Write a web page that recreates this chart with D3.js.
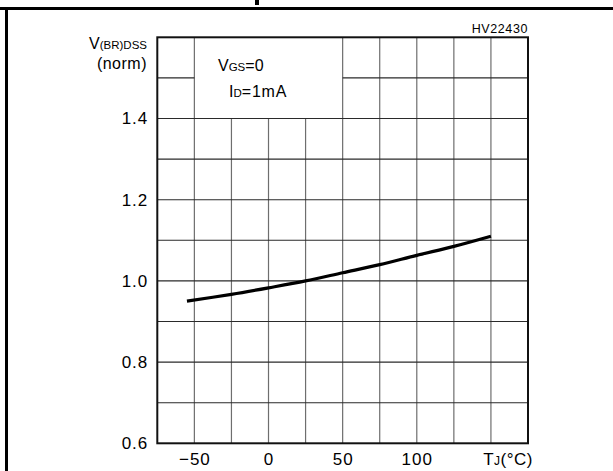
<!DOCTYPE html>
<html>
<head>
<meta charset="utf-8">
<script src="https://cdn.jsdelivr.net/npm/d3@7"></script>
<style>
  body { margin: 0; background: #fff; }
  svg { display: block; font-family: "Liberation Sans", Arial, sans-serif; }
</style>
</head>
<body>
<div id="chart"></div>
<script>
// curve: Tj (°C) vs normalised V(BR)DSS
const temps = [-55, -25, 0, 25, 50, 75, 100, 125, 150];
const bvdss = [0.950, 0.967, 0.983, 1.000, 1.020, 1.040, 1.063, 1.085, 1.110];

const xTicks = [-50, 0, 50, 100];
const yTicks = [0.6, 0.8, 1.0, 1.2, 1.4];
const xGrid = [-50, -25, 0, 25, 50, 75, 100, 125, 150];
const yGrid = [0.7, 0.8, 0.9, 1.0, 1.1, 1.2, 1.3, 1.4, 1.5];

const W = 613, H = 471;

const svg = d3.select("#chart")
    .append("svg")
    .attr("width", W)
    .attr("height", H);

const x = d3.scaleLinear().domain([-75, 175]).range([157.3, 528]);
const y = d3.scaleLinear().domain([0.6, 1.6]).range([443.3, 37.3]);

// outer page frame
svg.append("line").attr("x1", 0).attr("x2", W).attr("y1", 8.5).attr("y2", 8.5)
    .attr("stroke", "#000").attr("stroke-width", 3);
svg.append("line").attr("x1", 6.5).attr("x2", 6.5).attr("y1", 8.5).attr("y2", H)
    .attr("stroke", "#000").attr("stroke-width", 3);
// stub of the cropped title above the frame
svg.append("rect").attr("x", 255).attr("y", 0).attr("width", 4).attr("height", 5).attr("fill", "#000");

// grid - legend box sits in the top-left, so some lines are cut
const grid = svg.append("g");
xGrid.forEach(t => {
    const top = (t > -50 && t < 50) ? 1.4 : 1.6;
    grid.append("line")
        .attr("x1", x(t)).attr("x2", x(t))
        .attr("y1", y(0.6)).attr("y2", y(top))
        .attr("stroke", "#6e6e6e").attr("stroke-width", 1.2);
});
yGrid.forEach(v => {
    const segs = v > 1.4 ? [[-75, -50], [50, 175]] : [[-75, 175]];
    segs.forEach(s => {
        grid.append("line")
            .attr("x1", x(s[0])).attr("x2", x(s[1]))
            .attr("y1", y(v)).attr("y2", y(v))
            .attr("stroke", "#2a2a2a").attr("stroke-width", 1.1);
    });
});

// plot frame
svg.append("rect")
    .attr("x", x(-75)).attr("y", y(1.6))
    .attr("width", x(175) - x(-75)).attr("height", y(0.6) - y(1.6))
    .attr("fill", "none").attr("stroke", "#111").attr("stroke-width", 2);

// curve
const line = d3.line()
    .x((d, i) => x(temps[i]))
    .y(d => y(d))
    .curve(d3.curveCatmullRom);
svg.append("path")
    .datum(bvdss)
    .attr("fill", "none")
    .attr("stroke", "#000")
    .attr("stroke-width", 3.2)
    .attr("d", line);

// axes (labels only)
const xAxis = svg.append("g")
    .attr("transform", `translate(0,${y(0.6)})`)
    .call(d3.axisBottom(x).tickValues(xTicks).tickSize(0).tickPadding(10));
const yAxis = svg.append("g")
    .attr("transform", `translate(${x(-75)},0)`)
    .call(d3.axisLeft(y).tickValues(yTicks).tickSize(0).tickPadding(9).tickFormat(d3.format(".1f")));
[xAxis, yAxis].forEach(a => {
    a.select(".domain").remove();
    a.selectAll("text")
        .attr("font-family", "Liberation Sans, Arial, sans-serif")
        .attr("font-size", 17)
        .attr("letter-spacing", 1)
        .attr("fill", "#000");
});

// x axis name
const xl = svg.append("text")
    .attr("x", 533).attr("y", 465)
    .attr("text-anchor", "end")
    .attr("font-size", 17).attr("letter-spacing", 0.5);
xl.append("tspan").text("T");
xl.append("tspan").attr("font-size", 12).text("J");
xl.append("tspan").text("(°C)");

// y axis name
const yl = svg.append("text")
    .attr("x", 147).attr("y", 49)
    .attr("text-anchor", "end")
    .attr("font-size", 16);
yl.append("tspan").text("V");
yl.append("tspan").attr("font-size", 11.5).text("(BR)DSS");
svg.append("text")
    .attr("x", 147).attr("y", 69)
    .attr("text-anchor", "end")
    .attr("font-size", 16).attr("letter-spacing", 0.5)
    .text("(norm)");

// conditions
const c1 = svg.append("text").attr("x", 218).attr("y", 70.5).attr("font-size", 16);
c1.append("tspan").text("V");
c1.append("tspan").attr("font-size", 11.5).text("GS");
c1.append("tspan").text("=0");
const c2 = svg.append("text").attr("x", 229).attr("y", 96.5).attr("font-size", 16);
c2.append("tspan").text("I");
c2.append("tspan").attr("font-size", 11.5).text("D");
c2.append("tspan").attr("letter-spacing", 0.8).text("=1mA");

// figure code
svg.append("text")
    .attr("x", 528).attr("y", 33)
    .attr("text-anchor", "end")
    .attr("font-size", 12.5).attr("letter-spacing", 0.6)
    .text("HV22430");
</script>
</body>
</html>
